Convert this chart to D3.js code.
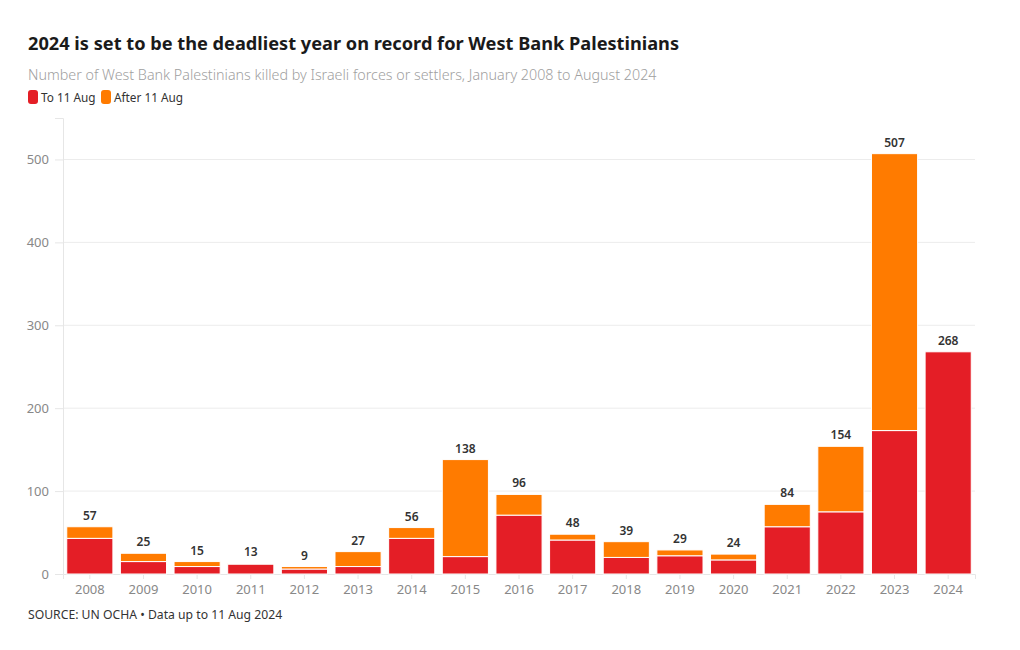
<!DOCTYPE html>
<html>
<head>
<meta charset="utf-8">
<script src="https://cdn.jsdelivr.net/npm/d3@7"></script>
<style>
  body { margin: 0; background: #fff; }
  svg text { font-family: "Noto Sans", sans-serif; }
</style>
</head>
<body>
<svg id="chart" width="1020" height="650"></svg>
<script>
var years = ['2008','2009','2010','2011','2012','2013','2014','2015','2016','2017','2018','2019','2020','2021','2022','2023','2024'];
var toAug = [43, 15, 9, 12, 6, 9, 43, 21, 71, 41, 20, 22, 17, 57, 75, 173, 268];
var totals = [57, 25, 15, 13, 9, 27, 56, 138, 96, 48, 39, 29, 24, 84, 154, 507, 268];
var yTicks = [0, 100, 200, 300, 400, 500];
var seriesNames = ['To 11 Aug', 'After 11 Aug'];
var colors = ['#e41e26', '#ff7b00'];

var svg = d3.select('#chart'),
    margin = { left: 63, right: 45, top: 118, bottom: 76 },
    width = 1020 - margin.left - margin.right,
    height = 650 - margin.top - margin.bottom;

// title block
svg.append('text')
   .attr('x', 28).attr('y', 50)
   .style('font-size', '18.2px').style('font-weight', 'bold').style('fill', '#1a1a1a')
   .text('2024 is set to be the deadliest year on record for West Bank Palestinians');

svg.append('text')
   .attr('x', 28).attr('y', 80)
   .style('font-size', '14.3px').style('fill', '#a0a0a0').style('font-weight', 300)
   .text('Number of West Bank Palestinians killed by Israeli forces or settlers, January 2008 to August 2024');

var legendX = [28, 101];
seriesNames.forEach(function (name, i) {
  svg.append('rect')
     .attr('x', legendX[i]).attr('y', 90)
     .attr('width', 10).attr('height', 14).attr('rx', 3)
     .style('fill', colors[i]);
  svg.append('text')
     .attr('x', legendX[i] + 13).attr('y', 102)
     .style('font-size', '11.8px').style('fill', '#333')
     .text(name);
});

var g = svg.append('g').attr('transform', 'translate(' + margin.left + ',' + margin.top + ')');

var x = d3.scaleBand().domain(years).range([0, width]).paddingInner(0.14).paddingOuter(0.07),
    y = d3.scaleLinear().domain([0, 550]).range([height, 0]);

// gridlines
g.selectAll('.grid')
 .data(yTicks.slice(1))
 .enter().append('line')
 .attr('x1', 0).attr('x2', width)
 .attr('y1', function (d) { return y(d); })
 .attr('y2', function (d) { return y(d); })
 .style('stroke', '#ececec');

// y axis
var yAxis = g.append('g').call(d3.axisLeft(y).tickValues(yTicks).tickSize(8).tickPadding(6));
yAxis.select('.domain').style('stroke', '#e6e6e6');
yAxis.selectAll('.tick line').style('stroke', '#e6e6e6');
yAxis.selectAll('text').style('font-size', '13px').style('fill', '#888').style('font-family', '"Noto Sans", sans-serif');

// x axis
var xAxis = g.append('g').attr('transform', 'translate(0,' + height + ')')
             .call(d3.axisBottom(x).tickSize(5).tickPadding(6));
xAxis.select('.domain').style('stroke', '#e6e6e6');
xAxis.selectAll('.tick line').style('stroke', '#e6e6e6');
xAxis.selectAll('text').style('font-size', '13px').style('fill', '#888').style('font-family', '"Noto Sans", sans-serif');

// stacked bars
var rows = years.map(function (yr, i) {
  return { year: yr, a: toAug[i], b: totals[i] - toAug[i], total: totals[i] };
});
var stack = d3.stack().keys(['a', 'b'])(rows);

g.selectAll('.layer')
 .data(stack)
 .enter().append('g')
 .style('fill', function (d, i) { return colors[i]; })
 .selectAll('rect')
 .data(function (d) { return d; })
 .enter().append('rect')
 .filter(function (d) { return d[1] - d[0] > 0; })
 .attr('x', function (d) { return x(d.data.year); })
 .attr('width', x.bandwidth())
 .attr('y', function (d) { return y(d[1]); })
 .attr('height', function (d) { return y(d[0]) - y(d[1]); })
 .style('stroke', '#fff').style('stroke-width', 1);

// total labels
g.selectAll('.total')
 .data(rows)
 .enter().append('text')
 .attr('x', function (d) { return x(d.year) + x.bandwidth() / 2; })
 .attr('y', function (d) { return y(d.total) - 7; })
 .attr('text-anchor', 'middle')
 .style('font-size', '12px').style('font-weight', 600).style('fill', '#333')
 .text(function (d) { return d.total; });

svg.append('text')
   .attr('x', 28).attr('y', 619)
   .style('font-size', '12.2px').style('fill', '#333')
   .text('SOURCE: UN OCHA \u2022 Data up to 11 Aug 2024');
</script>
</body>
</html>
